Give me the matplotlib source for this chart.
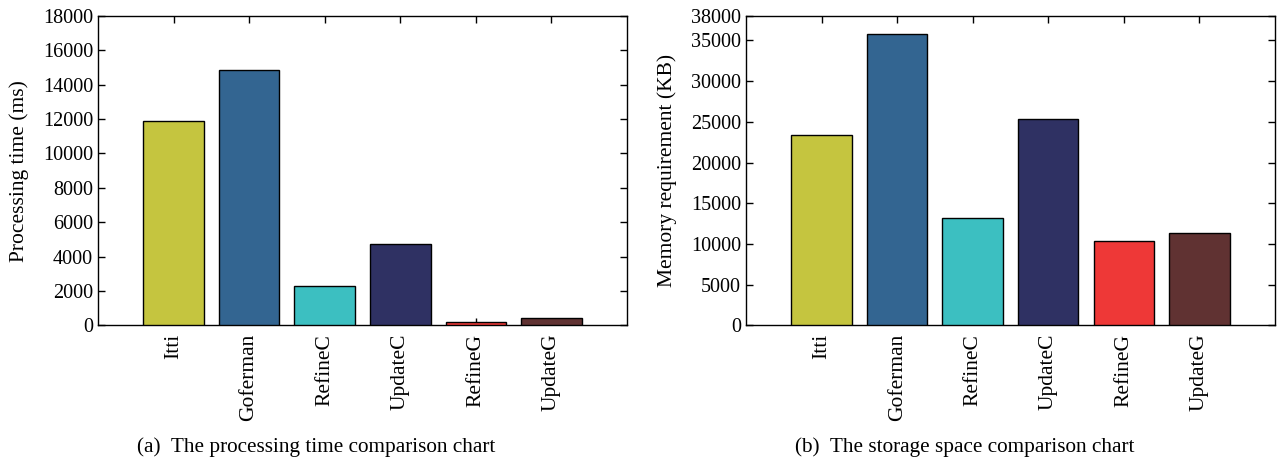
import matplotlib
matplotlib.use("Agg")
import matplotlib.pyplot as plt
import numpy as np

plt.rcParams['font.family'] = ['Liberation Serif', 'DejaVu Serif']

methods = ['Itti', 'Goferman', 'RefineC', 'UpdateC', 'RefineG', 'UpdateG']
colors = ['#c5c53f', '#336591', '#3cbfc1', '#2f3163', '#ee3837', '#603232']

# processing time (ms)
proc_time = [11870, 14850, 2280, 4760, 210, 450]
# memory requirement (KB)
memory = [23400, 35800, 13200, 25300, 10400, 11300]

time_ticks = list(range(0, 18001, 2000))
mem_ticks = [0, 5000, 10000, 15000, 20000, 25000, 30000, 35000, 38000]

fig = plt.figure(figsize=(12.82, 4.66), dpi=100)
ax1 = fig.add_axes([0.0764, 0.3019, 0.4127, 0.6638])
ax2 = fig.add_axes([0.5819, 0.3019, 0.4126, 0.6638])

def draw(ax, vals, ticks, ylabel):
    x = np.arange(len(methods))
    ax.bar(x, vals, width=0.8, color=colors, edgecolor='black', linewidth=1.0, zorder=3)
    ax.set_xlim(-1, len(methods))
    ax.set_ylim(ticks[0], ticks[-1])
    ax.set_yticks(ticks)
    ax.set_xticks(x)
    ax.set_xticklabels(methods, rotation=90, fontsize=15.5)
    ax.tick_params(axis='y', labelsize=14.5)
    ax.tick_params(direction='in', top=True, right=True, length=5, width=1)
    ax.tick_params(axis='x', pad=6)
    ax.set_ylabel(ylabel, fontsize=15.5)
    for s in ax.spines.values():
        s.set_linewidth(1.0)

draw(ax1, proc_time, time_ticks, 'Processing time (ms)')
draw(ax2, memory, mem_ticks, 'Memory requirement (KB)')
ax1.yaxis.set_label_coords(-0.13, 0.5)
ax2.yaxis.set_label_coords(-0.131, 0.5)

fig.text(0.2465, 0.04, '(a)  The processing time comparison chart', ha='center', va='center', fontsize=15.3)
fig.text(0.7527, 0.04, '(b)  The storage space comparison chart', ha='center', va='center', fontsize=15.3)

fig.savefig('out.png', dpi=100)
